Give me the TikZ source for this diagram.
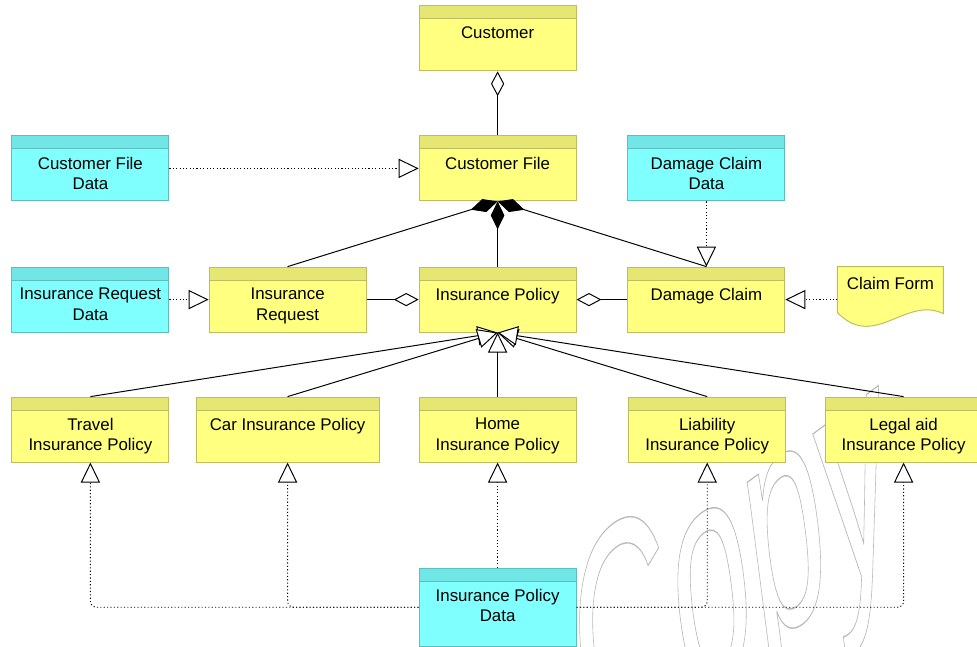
\documentclass[tikz,border=0pt]{standalone}
\usepackage{fontspec}
\setmainfont{Liberation Sans}
\usepackage{tikz}
\usetikzlibrary{arrows.meta,positioning,calc}
\usepackage{xcolor}
\definecolor{clsfill}{HTML}{FFFF80}
\definecolor{clshead}{HTML}{E6E673}
\definecolor{clsline}{HTML}{BDBD5E}
\definecolor{datafill}{HTML}{80FFFF}
\definecolor{datahead}{HTML}{70E6E6}
\definecolor{dataline}{HTML}{5EBDBD}

\begin{document}
\begin{tikzpicture}[
    font=\fontsize{12}{14.5}\selectfont,
    line width=0.7pt,
    box/.style={rectangle, minimum width=3.925cm, minimum height=1.625cm, inner sep=0pt},
    head/.style 2 args={path picture={
        \fill[#1] (path picture bounding box.north west) rectangle ([yshift=-0.325cm]path picture bounding box.north east);
        \draw[#2, line width=0.6pt] ([yshift=-0.325cm]path picture bounding box.north west) -- ([yshift=-0.325cm]path picture bounding box.north east);}},
    lbl/.style={anchor=north, yshift=-0.525cm, inner sep=0pt, align=center},
    clsbox/.style={box, fill=clsfill, draw=clsline, head={clshead}{clsline}, label={[lbl]north:#1}},
    databox/.style={box, fill=datafill, draw=dataline, head={datahead}{dataline}, label={[lbl]north:#1}},
    aggr/.style={{Diamond[fill=white, length=0.62cm, width=0.33cm]}-},
    comp/.style={{Diamond[length=0.7cm, width=0.34cm]}-},
    gen/.style={-{Triangle[fill=white, length=0.5cm, width=0.48cm]}},
    real/.style={-{Triangle[fill=white, length=0.5cm, width=0.48cm, line width=0.7pt]}, line width=0.6pt, dash pattern=on 0.8pt off 1.6pt},
    stamp/.style={inner sep=0pt, anchor=base west, transform shape, cm={3.325,2.45,-1.0,7.75,(0,0)}, font=\fontsize{28.45}{30}\selectfont}
]
\useasboundingbox (0,0) rectangle (24.425,-16.175);

% Watermark
\begin{scope}[shift={(14.7,-19.475)}]
\node[stamp] (copy) at (0,0) {\special{pdf:literal 1 Tr 0.12 w 0.72 G}Copy\special{pdf:literal 0 Tr}};
\end{scope}

% Classes
\node[clsbox={Customer}] (customer) at (12.44,-0.96) {};
\node[clsbox={Customer File}] (custfile) at (12.44,-4.21) {};
\node[clsbox={Insurance\\Request}] (request) at (7.19,-7.49) {};
\node[clsbox={Insurance Policy}] (policy) at (12.44,-7.49) {};
\node[clsbox={Damage Claim}] (claim) at (17.66,-7.49) {};

% Policy kinds
\node[clsbox={Travel\\Insurance Policy}] (travel) at (2.26,-10.74) {};
\node[clsbox={Car Insurance Policy}, minimum width=4.575cm] (car) at (7.19,-10.74) {};
\node[clsbox={Home\\Insurance Policy}] (home) at (12.44,-10.74) {};
\node[clsbox={Liability\\Insurance Policy}] (liability) at (17.68,-10.74) {};
\node[clsbox={Legal aid\\Insurance Policy}] (legal) at (22.59,-10.74) {};

% Data objects
\node[databox={Customer File\\Data}] (custfiledata) at (2.26,-4.21) {};
\node[databox={Damage Claim\\Data}] (claimdata) at (17.66,-4.21) {};
\node[databox={Insurance Request\\Data}] (requestdata) at (2.26,-7.49) {};
\node[databox={Insurance Policy\\Data}, minimum height=1.95cm] (policydata) at (12.44,-15.18) {};

% Document
\node[box, minimum width=2.625cm] (claimform) at (22.26,-7.49) {};
\draw[fill=clsfill, draw=clsline] (claimform.north west) -- (claimform.north east) -- ([yshift=0.475cm]claimform.south east)
    .. controls ([xshift=-0.95cm,yshift=0.925cm]claimform.south east) and ([xshift=0.925cm,yshift=-0.45cm]claimform.south west) .. ([yshift=0.5cm]claimform.south west) -- cycle;
\node[inner sep=0pt, anchor=north] (claimformtxt) at ([yshift=-0.25cm]claimform.north) {Claim Form};

% Aggregation and composition
\draw[aggr] (customer.south) -- (custfile.north);
\draw[comp] (custfile.south) -- (request.north);
\draw[comp] (custfile.south) -- (policy.north);
\draw[comp] (custfile.south) -- (claim.north);
\draw[aggr] (policy.west) -- (request.east);
\draw[aggr] (policy.east) -- (claim.west);

% Generalization
\draw[gen] (travel.north) -- (policy.south);
\draw[gen] (car.north) -- (policy.south);
\draw[gen] (liability.north) -- (policy.south);
\draw[gen] (legal.north) -- (policy.south);
\draw[gen] (home.north) -- (policy.south);

% Realization
\draw[real] (custfiledata.east) -- (custfile.west);
\draw[real] (requestdata.east) -- (request.west);
\draw[real] (claimdata.south) -- (claim.north);
\draw[real] (claimform.west) -- (claim.east);
\draw[real] (policydata.north) -- (home.south);
\draw[real, rounded corners=0.15cm] (policydata.west) -| (travel.south);
\draw[real, rounded corners=0.15cm] (policydata.west) -| (car.south);
\draw[real, rounded corners=0.15cm] (policydata.east) -| (liability.south);
\draw[real, rounded corners=0.15cm] (policydata.east) -| (legal.south);

\end{tikzpicture}
\end{document}
